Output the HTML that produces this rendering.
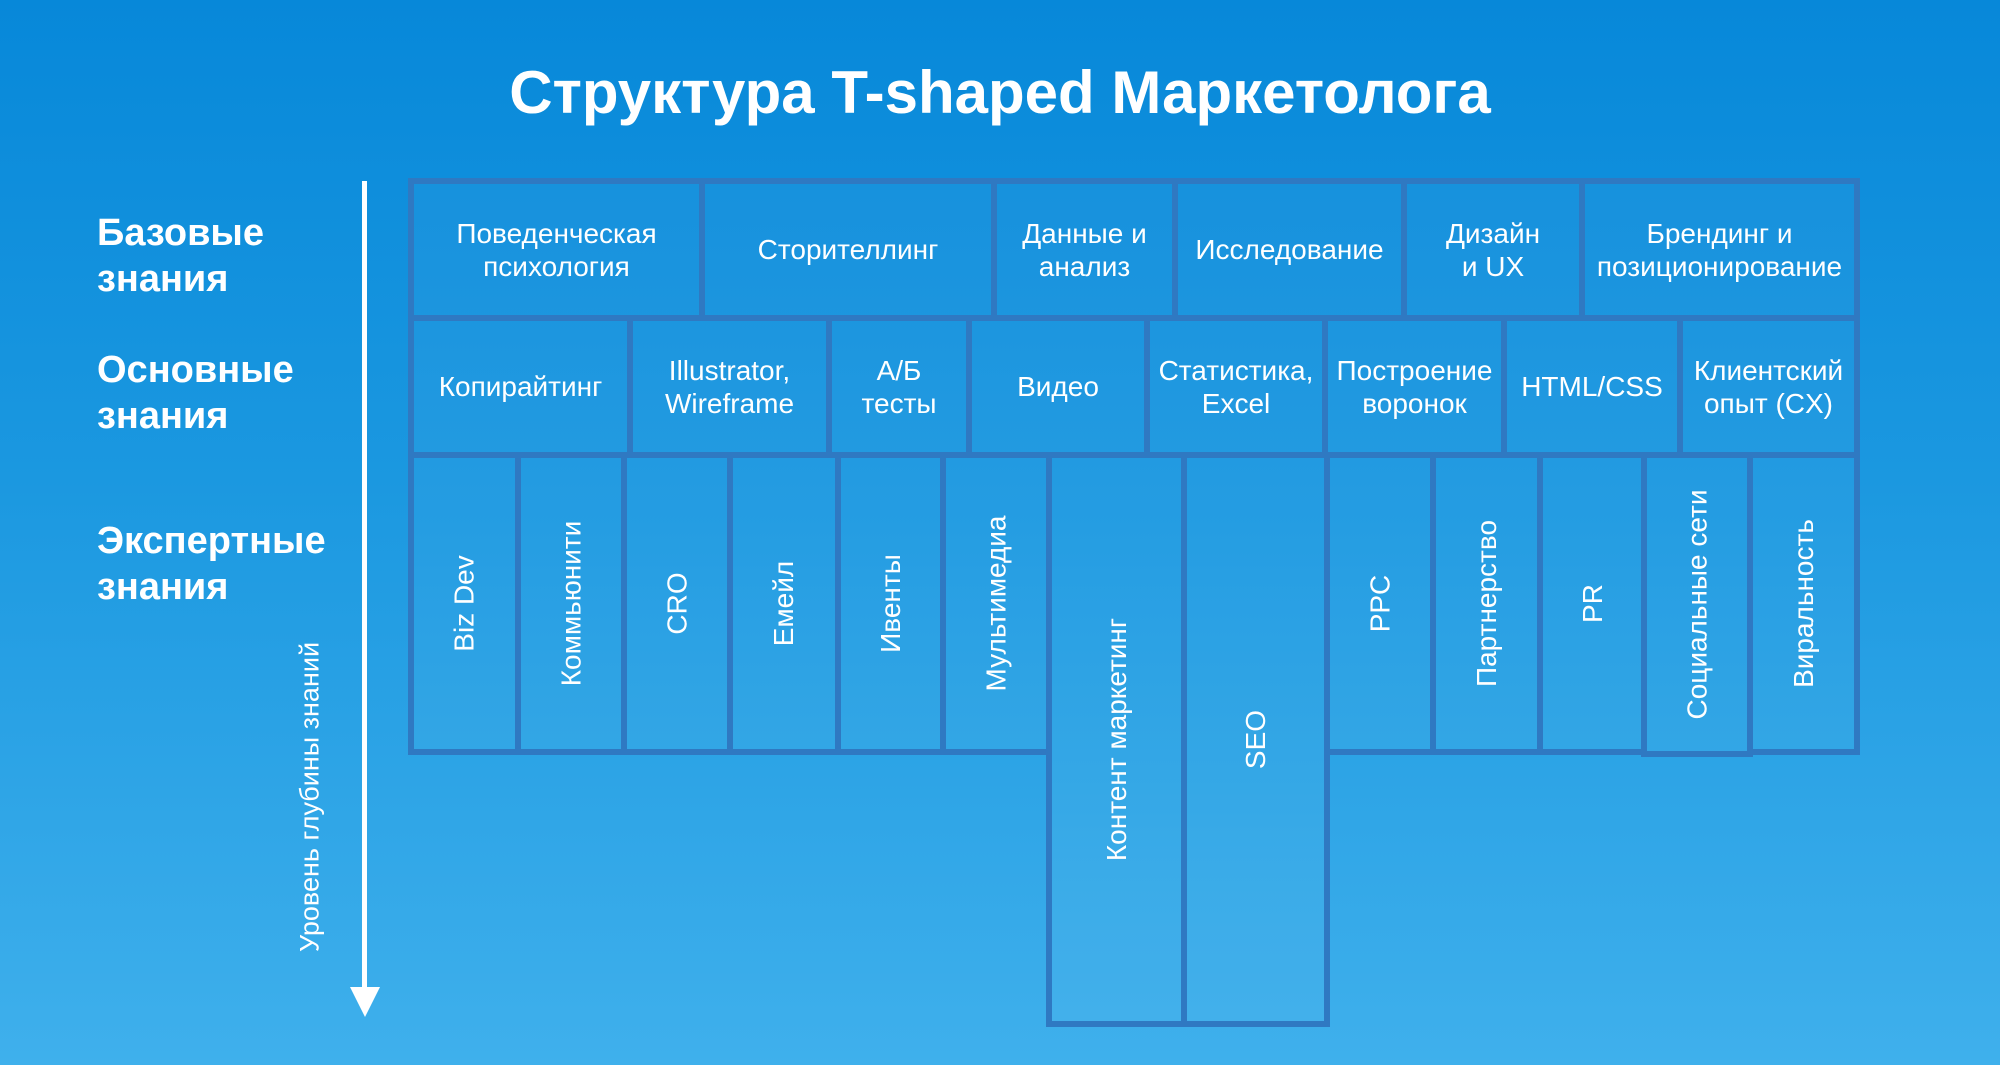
<!DOCTYPE html>
<html><head><meta charset="utf-8"><style>
body{margin:0;width:2000px;height:1065px;overflow:hidden;background:linear-gradient(180deg,#0788d9 0%,#1b98e0 45%,#3fb0ec 100%);font-family:"Liberation Sans",sans-serif;color:#fff;position:relative}
.c{position:absolute;box-sizing:border-box;border:6px solid #2f79c2;background:rgba(255,255,255,0.035);display:flex;align-items:center;justify-content:center;text-align:center;font-size:28px;line-height:33px}
.v span{transform:rotate(-90deg);white-space:nowrap;display:block}
.lab{position:absolute;left:97px;font-weight:bold;font-size:38px;line-height:46px}
</style></head><body>
<div style="position:absolute;left:0;width:2000px;top:57px;text-align:center;font-weight:bold;font-size:60px;line-height:72px">Структура T-shaped Маркетолога</div>
<div class="lab" style="top:210px">Базовые<br>знания</div>
<div class="lab" style="top:347px">Основные<br>знания</div>
<div class="lab" style="top:518px">Экспертные<br>знания</div>
<div style="position:absolute;left:362px;top:181px;width:5px;height:810px;background:#fff"></div>
<div style="position:absolute;left:350px;top:987px;width:0;height:0;border-left:15px solid transparent;border-right:15px solid transparent;border-top:30px solid #fff"></div>
<div style="position:absolute;left:310px;top:797px;transform:translate(-50%,-50%) rotate(-90deg);font-size:27px;white-space:nowrap">Уровень глубины знаний</div>

<!-- row1 -->
<div class="c" style="left:408px;top:178px;width:297px;height:143px">Поведенческая<br>психология</div>
<div class="c" style="left:699px;top:178px;width:298px;height:143px">Сторителлинг</div>
<div class="c" style="left:991px;top:178px;width:187px;height:143px">Данные и<br>анализ</div>
<div class="c" style="left:1172px;top:178px;width:235px;height:143px">Исследование</div>
<div class="c" style="left:1401px;top:178px;width:184px;height:143px">Дизайн<br>и UX</div>
<div class="c" style="left:1579px;top:178px;width:281px;height:143px">Брендинг и<br>позиционирование</div>
<!-- row2 -->
<div class="c" style="left:408px;top:315px;width:225px;height:143px">Копирайтинг</div>
<div class="c" style="left:627px;top:315px;width:205px;height:143px">Illustrator,<br>Wireframe</div>
<div class="c" style="left:826px;top:315px;width:146px;height:143px">А/Б<br>тесты</div>
<div class="c" style="left:966px;top:315px;width:184px;height:143px">Видео</div>
<div class="c" style="left:1144px;top:315px;width:184px;height:143px">Статистика,<br>Excel</div>
<div class="c" style="left:1322px;top:315px;width:185px;height:143px">Построение<br>воронок</div>
<div class="c" style="left:1501px;top:315px;width:182px;height:143px">HTML/CSS</div>
<div class="c" style="left:1677px;top:315px;width:183px;height:143px">Клиентский<br>опыт (CX)</div>
<!-- row3 -->
<div class="c v" style="left:408px;top:452px;width:113px;height:303px"><span>Biz Dev</span></div>
<div class="c v" style="left:515px;top:452px;width:112px;height:303px"><span>Коммьюнити</span></div>
<div class="c v" style="left:621px;top:452px;width:112px;height:303px"><span>CRO</span></div>
<div class="c v" style="left:727px;top:452px;width:114px;height:303px"><span>Емейл</span></div>
<div class="c v" style="left:835px;top:452px;width:111px;height:303px"><span>Ивенты</span></div>
<div class="c v" style="left:940px;top:452px;width:112px;height:303px"><span>Мультимедиа</span></div>
<div class="c v" style="left:1046px;top:452px;width:141px;height:575px"><span>Контент маркетинг</span></div>
<div class="c v" style="left:1181px;top:452px;width:149px;height:575px"><span>SEO</span></div>
<div class="c v" style="left:1324px;top:452px;width:112px;height:303px"><span>PPC</span></div>
<div class="c v" style="left:1430px;top:452px;width:113px;height:303px"><span>Партнерство</span></div>
<div class="c v" style="left:1537px;top:452px;width:110px;height:303px"><span>PR</span></div>
<div class="c v" style="left:1641px;top:452px;width:112px;height:305px"><span>Социальные сети</span></div>
<div class="c v" style="left:1747px;top:452px;width:113px;height:303px"><span>Виральность</span></div>
</body></html>
